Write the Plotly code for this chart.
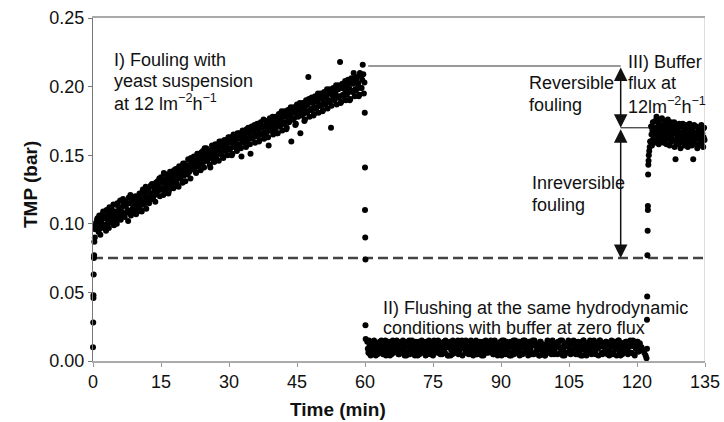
import plotly.graph_objects as go

# ---------------- data (TMP in bar, time in min) ----------------
startup_time = [0.0, 0.05, 0.1, 0.1, 0.15, 0.2, 0.25, 0.3, 0.4, 0.5, 0.6, 0.7, 0.8, 0.9]
startup_tmp = [0.010, 0.028, 0.046, 0.048, 0.063, 0.075, 0.077, 0.087, 0.090, 0.096, 0.099, 0.101, 0.097, 0.103]

# fouling phase, two interleaved logger channels, every 0.25 min
fouling_a_start, fouling_b_start, fouling_step = 1.0, 1.125, 0.25
fouling_a_tmp = [
    0.104, 0.094, 0.101, 0.097, 0.100, 0.109, 0.097, 0.105, 0.110, 0.103, 0.097, 0.106,
    0.102, 0.109, 0.114, 0.100, 0.109, 0.100, 0.113, 0.108, 0.117, 0.107, 0.108, 0.115,
    0.105, 0.113, 0.115, 0.102, 0.115, 0.121, 0.108, 0.111, 0.119, 0.110, 0.107, 0.116,
    0.112, 0.122, 0.118, 0.109, 0.125, 0.114, 0.120, 0.111, 0.117, 0.126, 0.119, 0.128,
    0.129, 0.118, 0.124, 0.116, 0.122, 0.131, 0.127, 0.120, 0.134, 0.125, 0.121, 0.131,
    0.127, 0.136, 0.130, 0.124, 0.138, 0.128, 0.134, 0.126, 0.131, 0.140, 0.129, 0.137,
    0.142, 0.133, 0.139, 0.130, 0.135, 0.144, 0.137, 0.141, 0.147, 0.138, 0.133, 0.144,
    0.140, 0.149, 0.145, 0.137, 0.151, 0.142, 0.147, 0.139, 0.144, 0.153, 0.141, 0.150,
    0.155, 0.146, 0.151, 0.143, 0.148, 0.157, 0.152, 0.145, 0.158, 0.149, 0.154, 0.146,
    0.151, 0.160, 0.156, 0.148, 0.161, 0.153, 0.158, 0.150, 0.154, 0.163, 0.159, 0.151,
    0.165, 0.156, 0.161, 0.153, 0.157, 0.166, 0.162, 0.149, 0.168, 0.159, 0.164, 0.156,
    0.160, 0.170, 0.166, 0.151, 0.171, 0.162, 0.167, 0.159, 0.164, 0.173, 0.169, 0.161,
    0.174, 0.165, 0.170, 0.162, 0.166, 0.175, 0.171, 0.157, 0.177, 0.168, 0.173, 0.165,
    0.169, 0.178, 0.174, 0.166, 0.180, 0.171, 0.176, 0.168, 0.173, 0.182, 0.178, 0.170,
    0.183, 0.174, 0.179, 0.160, 0.176, 0.185, 0.181, 0.173, 0.187, 0.178, 0.183, 0.166,
    0.179, 0.188, 0.184, 0.176, 0.190, 0.181, 0.207, 0.178, 0.183, 0.192, 0.188, 0.180,
    0.193, 0.184, 0.189, 0.181, 0.186, 0.195, 0.191, 0.183, 0.196, 0.187, 0.192, 0.184,
    0.189, 0.198, 0.170, 0.194, 0.199, 0.190, 0.195, 0.187, 0.192, 0.201, 0.218, 0.189,
    0.202, 0.193, 0.198, 0.190, 0.194, 0.205, 0.199, 0.191, 0.206, 0.196, 0.210, 0.193,
    0.197, 0.207, 0.202, 0.194, 0.208, 0.199, 0.216, 0.195,
]
fouling_b_tmp = [
    0.098, 0.106, 0.092, 0.103, 0.107, 0.099, 0.104, 0.095, 0.100, 0.108, 0.112, 0.101,
    0.111, 0.104, 0.099, 0.107, 0.104, 0.115, 0.106, 0.111, 0.103, 0.112, 0.118, 0.106,
    0.116, 0.108, 0.110, 0.119, 0.109, 0.106, 0.117, 0.113, 0.112, 0.120, 0.114, 0.109,
    0.120, 0.114, 0.110, 0.123, 0.116, 0.122, 0.127, 0.119, 0.124, 0.115, 0.122, 0.118,
    0.120, 0.127, 0.121, 0.130, 0.129, 0.124, 0.133, 0.125, 0.126, 0.130, 0.137, 0.124,
    0.133, 0.128, 0.122, 0.134, 0.130, 0.135, 0.131, 0.139, 0.136, 0.132, 0.139, 0.127,
    0.135, 0.141, 0.136, 0.144, 0.142, 0.131, 0.140, 0.136, 0.139, 0.143, 0.148, 0.140,
    0.146, 0.141, 0.138, 0.147, 0.143, 0.148, 0.144, 0.152, 0.149, 0.145, 0.155, 0.146,
    0.147, 0.152, 0.149, 0.141, 0.154, 0.150, 0.146, 0.155, 0.150, 0.156, 0.153, 0.160,
    0.157, 0.152, 0.149, 0.158, 0.154, 0.159, 0.155, 0.163, 0.160, 0.155, 0.150, 0.161,
    0.157, 0.162, 0.158, 0.166, 0.163, 0.158, 0.155, 0.164, 0.160, 0.165, 0.161, 0.169,
    0.167, 0.162, 0.158, 0.168, 0.163, 0.168, 0.172, 0.164, 0.170, 0.165, 0.160, 0.171,
    0.166, 0.171, 0.176, 0.167, 0.172, 0.167, 0.163, 0.173, 0.169, 0.174, 0.178, 0.170,
    0.175, 0.170, 0.166, 0.176, 0.172, 0.177, 0.182, 0.173, 0.179, 0.174, 0.169, 0.180,
    0.175, 0.180, 0.185, 0.176, 0.182, 0.177, 0.172, 0.183, 0.179, 0.184, 0.188, 0.180,
    0.185, 0.180, 0.175, 0.186, 0.182, 0.187, 0.191, 0.183, 0.189, 0.184, 0.179, 0.190,
    0.185, 0.190, 0.195, 0.186, 0.192, 0.187, 0.182, 0.193, 0.188, 0.193, 0.198, 0.189,
    0.195, 0.190, 0.186, 0.196, 0.191, 0.196, 0.201, 0.192, 0.198, 0.193, 0.188, 0.199,
    0.194, 0.200, 0.204, 0.195, 0.201, 0.196, 0.190, 0.203, 0.197, 0.202, 0.206, 0.198,
    0.204, 0.199, 0.193, 0.210, 0.199, 0.205, 0.209, 0.203,
]

# drop when the feed is switched to buffer
drop_time = [59.95, 60.0, 60.0, 60.05, 60.1, 60.1, 60.15]
drop_tmp = [0.181, 0.141, 0.110, 0.090, 0.074, 0.026, 0.016]

# flushing phase, two interleaved logger channels, every 0.25 min
flush_a_start, flush_b_start, flush_step = 60.5, 60.625, 0.25
flush_a_tmp = [
    0.014, 0.006, 0.011, 0.004, 0.013, 0.009, 0.015, 0.007, 0.012, 0.005, 0.010, 0.014,
    0.008, 0.013, 0.005, 0.011, 0.015, 0.007, 0.009, 0.012, 0.004, 0.014, 0.010, 0.006,
    0.013, 0.008, 0.015, 0.011, 0.005, 0.009, 0.014, 0.007, 0.012, 0.004, 0.010, 0.013,
    0.006, 0.015, 0.009, 0.012, 0.007, 0.011, 0.004, 0.014, 0.008, 0.013, 0.005, 0.010,
    0.015, 0.007, 0.012, 0.009, 0.014, 0.005, 0.011, 0.006, 0.013, 0.010, 0.004, 0.015,
    0.008, 0.012, 0.006, 0.014, 0.009, 0.011, 0.005, 0.013, 0.007, 0.015, 0.010, 0.004,
    0.012, 0.014, 0.008, 0.005, 0.011, 0.013, 0.006, 0.009, 0.015, 0.007, 0.012, 0.010,
    0.004, 0.013, 0.009, 0.015, 0.006, 0.011, 0.014, 0.008, 0.005, 0.012, 0.010, 0.007,
    0.015, 0.005, 0.013, 0.008, 0.011, 0.004, 0.014, 0.009, 0.012, 0.006, 0.010, 0.013,
    0.007, 0.015, 0.011, 0.005, 0.014, 0.008, 0.012, 0.004, 0.013, 0.010, 0.006, 0.015,
    0.009, 0.012, 0.005, 0.014, 0.007, 0.011, 0.013, 0.004, 0.010, 0.015, 0.008, 0.006,
    0.013, 0.009, 0.014, 0.006, 0.012, 0.005, 0.010, 0.015, 0.007, 0.011, 0.004, 0.014,
    0.008, 0.011, 0.015, 0.005, 0.013, 0.007, 0.012, 0.009, 0.004, 0.014, 0.010, 0.006,
    0.012, 0.004, 0.009, 0.015, 0.011, 0.006, 0.014, 0.008, 0.013, 0.005, 0.010, 0.012,
    0.005, 0.014, 0.010, 0.007, 0.015, 0.009, 0.004, 0.012, 0.011, 0.013, 0.006, 0.008,
    0.013, 0.007, 0.015, 0.011, 0.005, 0.010, 0.014, 0.006, 0.009, 0.012, 0.004, 0.015,
    0.010, 0.012, 0.006, 0.013, 0.008, 0.014, 0.005, 0.011, 0.015, 0.007, 0.012, 0.009,
    0.004, 0.015, 0.011, 0.006, 0.013, 0.010, 0.007, 0.014, 0.005, 0.012, 0.008, 0.013,
    0.011, 0.006, 0.014, 0.009, 0.004, 0.012, 0.015, 0.007, 0.010, 0.005, 0.013, 0.008,
    0.014, 0.010, 0.005, 0.012, 0.015, 0.006, 0.011, 0.013, 0.004, 0.009, 0.014, 0.007,
    0.012, 0.008,
]
flush_b_tmp = [
    0.009, 0.015, 0.005, 0.012, 0.007, 0.014, 0.010, 0.004, 0.013, 0.008, 0.011, 0.006,
    0.015, 0.010, 0.006, 0.013, 0.004, 0.011, 0.014, 0.008, 0.012, 0.005, 0.015, 0.009,
    0.007, 0.012, 0.014, 0.005, 0.010, 0.013, 0.006, 0.015, 0.008, 0.011, 0.004, 0.014,
    0.012, 0.005, 0.009, 0.015, 0.011, 0.006, 0.013, 0.010, 0.004, 0.014, 0.007, 0.012,
    0.006, 0.014, 0.011, 0.004, 0.013, 0.008, 0.015, 0.005, 0.010, 0.012, 0.009, 0.007,
    0.013, 0.009, 0.015, 0.007, 0.005, 0.012, 0.010, 0.014, 0.006, 0.011, 0.013, 0.004,
    0.010, 0.004, 0.012, 0.015, 0.008, 0.006, 0.014, 0.011, 0.005, 0.013, 0.009, 0.015,
    0.014, 0.011, 0.006, 0.010, 0.013, 0.005, 0.008, 0.015, 0.012, 0.004, 0.011, 0.007,
    0.005, 0.013, 0.010, 0.014, 0.007, 0.012, 0.004, 0.009, 0.015, 0.011, 0.006, 0.013,
    0.011, 0.007, 0.014, 0.005, 0.015, 0.009, 0.012, 0.006, 0.010, 0.014, 0.004, 0.012,
    0.015, 0.006, 0.012, 0.009, 0.011, 0.004, 0.014, 0.013, 0.007, 0.005, 0.015, 0.010,
    0.007, 0.014, 0.004, 0.012, 0.010, 0.015, 0.006, 0.009, 0.013, 0.011, 0.005, 0.014,
    0.012, 0.005, 0.013, 0.015, 0.006, 0.010, 0.011, 0.004, 0.014, 0.008, 0.012, 0.009,
    0.004, 0.012, 0.009, 0.006, 0.014, 0.013, 0.005, 0.015, 0.010, 0.007, 0.013, 0.011,
    0.014, 0.010, 0.015, 0.008, 0.004, 0.011, 0.013, 0.006, 0.012, 0.015, 0.009, 0.005,
    0.006, 0.013, 0.011, 0.014, 0.009, 0.005, 0.012, 0.010, 0.004, 0.014, 0.015, 0.008,
    0.013, 0.004, 0.007, 0.012, 0.015, 0.010, 0.006, 0.014, 0.011, 0.005, 0.009, 0.013,
    0.010, 0.015, 0.012, 0.005, 0.011, 0.006, 0.014, 0.008, 0.013, 0.004, 0.012, 0.015,
    0.005, 0.011, 0.014, 0.009, 0.012, 0.015, 0.007, 0.004, 0.010, 0.013, 0.006, 0.011,
    0.014, 0.008, 0.010, 0.013, 0.006, 0.012, 0.015, 0.005, 0.011, 0.009, 0.014, 0.007,
    0.013, 0.010,
]

# end of flushing and restart with buffer filtration
restart_time = [121.0, 121.3, 121.6, 121.9, 122.1, 122.2, 122.2, 122.25, 122.3, 122.35,
                122.4, 122.4, 122.45, 122.5, 122.55, 122.6, 122.7, 122.8, 122.9]
restart_tmp = [0.010, 0.008, 0.006, 0.004, 0.002, 0.009, 0.030, 0.047, 0.077, 0.095,
               0.110, 0.113, 0.136, 0.143, 0.146, 0.150, 0.153, 0.156, 0.160]

# buffer filtration phase, logged every 0.1 min from t = 123.0 min
buffer_start, buffer_step = 123.0, 0.1
buffer_tmp = [
    0.160, 0.171, 0.165, 0.157, 0.168, 0.174, 0.162, 0.166, 0.159, 0.170,
    0.175, 0.163, 0.168, 0.178, 0.161, 0.170, 0.166, 0.173, 0.158, 0.169,
    0.164, 0.176, 0.171, 0.160, 0.167, 0.177, 0.163, 0.172, 0.168, 0.159,
    0.173, 0.166, 0.161, 0.175, 0.169, 0.158, 0.171, 0.164, 0.176, 0.162,
    0.167, 0.172, 0.157, 0.170, 0.163, 0.174, 0.160, 0.168, 0.165, 0.171,
    0.161, 0.169, 0.174, 0.156, 0.166, 0.147, 0.172, 0.159, 0.168, 0.163,
    0.170, 0.158, 0.165, 0.173, 0.161, 0.167, 0.155, 0.171, 0.164, 0.160,
    0.166, 0.173, 0.159, 0.162, 0.170, 0.157, 0.168, 0.164, 0.172, 0.158,
    0.163, 0.169, 0.156, 0.171, 0.160, 0.166, 0.173, 0.158, 0.165, 0.162,
    0.170, 0.157, 0.164, 0.168, 0.147, 0.161, 0.172, 0.159, 0.166, 0.163,
    0.158, 0.171, 0.162, 0.155, 0.167, 0.164, 0.170, 0.157, 0.163, 0.168,
    0.165, 0.160, 0.172, 0.158, 0.166, 0.169, 0.156, 0.163, 0.170, 0.161,
]

# reference levels
clean_tmp = 0.075          # dashed baseline (clean membrane)
fouled_tmp = 0.215         # TMP at the end of fouling
after_flush_tmp = 0.170    # TMP after flushing
arrow_time = 116.4
x_ticks = [0, 15, 30, 45, 60, 75, 90, 105, 120, 135]
y_ticks = [0.00, 0.05, 0.10, 0.15, 0.20, 0.25]


def logged_times(start, step, values):
    return [round(start + i * step, 3) for i in range(len(values))]


series = [
    (startup_time, startup_tmp),
    (logged_times(fouling_a_start, fouling_step, fouling_a_tmp), fouling_a_tmp),
    (logged_times(fouling_b_start, fouling_step, fouling_b_tmp), fouling_b_tmp),
    (drop_time, drop_tmp),
    (logged_times(flush_a_start, flush_step, flush_a_tmp), flush_a_tmp),
    (logged_times(flush_b_start, flush_step, flush_b_tmp), flush_b_tmp),
    (restart_time, restart_tmp),
    (logged_times(buffer_start, buffer_step, buffer_tmp), buffer_tmp),
]

FONT = "Liberation Sans, Arial, Helvetica, sans-serif"
marker = dict(color="black", size=6, symbol="circle")

# full-window figure (page body margin removed below): plot area at
# x 93..705, y 18..361 of the window
W, H = 724, 422
L, T, R, B = 93, 18, 19, 61
PW, PH = W - L - R, H - T - B


def px_x(sx):
    return (sx - L) / PW


def px_y(sy):
    return 1 - (sy - T) / PH


fig = go.Figure()
for xs, ys in series:
    fig.add_trace(go.Scatter(x=xs, y=ys, mode="markers", marker=marker,
                             cliponaxis=False, showlegend=False, hoverinfo="x+y"))

fig.add_shape(type="line", xref="x", yref="y", x0=0, x1=135, y0=clean_tmp, y1=clean_tmp,
              line=dict(color="#444", width=2.5, dash="10px,5px"), layer="below")
fig.add_shape(type="line", xref="x", yref="y", x0=60.7, x1=arrow_time, y0=fouled_tmp, y1=fouled_tmp,
              line=dict(color="#777", width=1.5))
fig.add_shape(type="line", xref="x", yref="y", x0=arrow_time, x1=122.6,
              y0=after_flush_tmp, y1=after_flush_tmp, line=dict(color="#333", width=1.2))
fig.add_shape(type="line", xref="x", yref="paper", x0=135, x1=135, y0=0, y1=1,
              line=dict(color="#bbb", width=1))

arrow_common = dict(xref="x", yref="y", axref="x", ayref="y", text="", showarrow=True,
                    arrowhead=2, startarrowhead=2, arrowside="end+start",
                    arrowsize=1.8, startarrowsize=1.8, arrowwidth=1.5, arrowcolor="#111",
                    standoff=0, startstandoff=0)
fig.add_annotation(x=arrow_time, y=after_flush_tmp, ax=arrow_time, ay=fouled_tmp, **arrow_common)
fig.add_annotation(x=arrow_time, y=clean_tmp, ax=arrow_time, ay=after_flush_tmp, **arrow_common)

text_font = dict(family=FONT, size=18, color="#111")
labels = [
    (4.2, 0.2194, "I) Fouling with"),
    (4.2, 0.2038, "yeast suspension"),
    (4.2, 0.1881, "at 12 lm<sup>−2</sup>h<sup>−1</sup>"),
    (95.8, 0.2027, "Reversible"),
    (95.8, 0.1866, "fouling"),
    (117.6, 0.2180, "III) Buffer"),
    (117.6, 0.2027, "flux at"),
    (117.6, 0.1859, "12lm<sup>−2</sup>h<sup>−1</sup>"),
    (96.4, 0.1298, "Inreversible"),
    (96.4, 0.1137, "fouling"),
    (63.5, 0.0386, "II) Flushing at the same hydrodynamic"),
    (63.5, 0.0240, "conditions with buffer at zero flux"),
]
for lx, ly, txt in labels:
    fig.add_annotation(x=lx, y=ly, xref="x", yref="y", text=txt, showarrow=False,
                       xanchor="left", yanchor="middle", font=text_font)

fig.add_annotation(x=px_x(30), y=px_y(185), xref="paper", yref="paper",
                   text="<b>TMP (bar)</b>", showarrow=False, textangle=-90,
                   xanchor="center", yanchor="middle",
                   font=dict(family=FONT, size=19, color="#111"))
fig.add_annotation(x=px_x(338), y=px_y(409), xref="paper", yref="paper",
                   text="<b>Time (min)</b>", showarrow=False,
                   xanchor="center", yanchor="middle",
                   font=dict(family=FONT, size=19, color="#111"))

fig.update_layout(
    width=W, height=H, autosize=False,
    margin=dict(l=L, r=R, t=T, b=B, autoexpand=False),
    plot_bgcolor="white", paper_bgcolor="white",
    font=dict(family=FONT, size=18, color="#111"),
    showlegend=False,
)
fig.update_xaxes(range=[0, 135], tickvals=x_ticks, ticks="outside", ticklen=4,
                 tickcolor="#999", showline=True, linecolor="#aaa", linewidth=1.5,
                 mirror=True, showgrid=False, zeroline=False, automargin=False,
                 tickfont=dict(family=FONT, size=18, color="#111"))
fig.update_yaxes(range=[0, 0.25], tickvals=y_ticks, tickformat=".2f", ticks="outside",
                 ticklen=4, tickcolor="#777", showline=True, linecolor="#777",
                 linewidth=1.2, showgrid=False, zeroline=False, automargin=False,
                 tickfont=dict(family=FONT, size=18, color="#111"))

fig.write_html("out.html",
               config={"displayModeBar": False},
               post_script="document.body.style.margin='0';document.body.style.overflow='hidden';")
